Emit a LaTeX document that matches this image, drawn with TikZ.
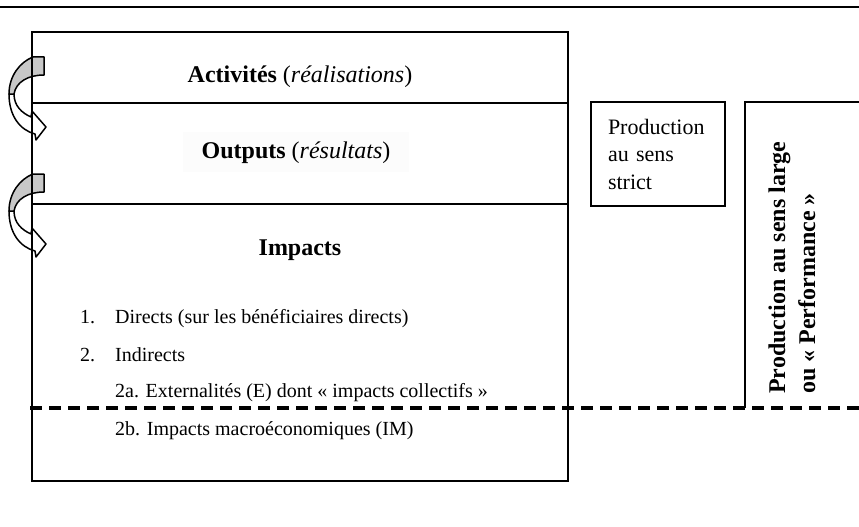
\documentclass[tikz,border=0pt]{standalone}
\usepackage{fontspec}
\setmainfont{Liberation Serif}
\usetikzlibrary{positioning}
\definecolor{twistgrey}{HTML}{C8C8C8}

\begin{document}
\begin{tikzpicture}[x=1pt, y=-1pt,
    levelTitle/.style={anchor=base, inner sep=0pt, font=\fontsize{24}{29}\selectfont},
    listItem/.style={anchor=base west, inner sep=0pt, font=\fontsize{20}{24}\selectfont},
    strictBox/.style={draw, line width=2.8pt, minimum width=134pt, minimum height=104pt, inner xsep=14pt, text width=100pt, align=left, font=\fontsize{22}{27.5}\selectfont},
    twistBack/.style={draw, line width=1.5pt, fill=twistgrey, line join=round},
    twistFront/.style={draw, line width=1.5pt, fill=white, line join=round}
]
    \useasboundingbox (0,0) rectangle (859,527);

    % rule at the top
    \draw[line width=2.2pt] (0,7) -- (859,7);

    % twisted arrows between the levels
    \foreach \dy in {0,117}{
        \begin{scope}[shift={(0,\dy)}]
            \draw[twistFront] (9,94) .. controls (9,116) and (20,130) .. (35,134) -- (36,140) -- (46,127) -- (32,111) -- (31,117) .. controls (22,113) and (14,106) .. (14,94) -- cycle;
            \draw[twistBack] (44,57) -- (33,57) .. controls (20,62) and (9,76) .. (9,94) -- (14,94) .. controls (16,82) and (28,75) .. (44,75) -- cycle;
        \end{scope}
    }

    % chain of results
    \draw[line width=1.8pt] (32,32) rectangle (568,481);
    \draw[line width=1.8pt] (32,103) -- (568,103) (32,204) -- (568,204);

    \node[levelTitle] (act) at (300,82) {\textbf{Activités} (\textit{réalisations})};
    \node[levelTitle, fill=black!1, inner xsep=19pt, inner ysep=9pt] (out) at (296,158) {\textbf{Outputs} (\textit{résultats})};
    \node[levelTitle] (imp) at (300,255) {\textbf{Impacts}};

    \node[listItem] (n1) at (80,323) {1.};
    \node[listItem] (i1) at (115,323) {Directs (sur les bénéficiaires directs)};
    \node[listItem] (n2) at (80,361) {2.};
    \node[listItem] (i2) at (115,361) {Indirects};
    \node[listItem] (i2a) at (115,397) {2a. Externalités (E) dont « impacts collectifs »};
    \node[listItem] (i2b) at (115,435) {2b. Impacts macroéconomiques (IM)};

    % production boxes
    \node[strictBox] (strict) at (658,154) {Production\\au sens\\strict};

    \draw[line width=2.8pt] (859,102) -- (745,102) -- (745,408);
    \node[rotate=90, anchor=west, align=left, inner sep=0pt, font=\bfseries\fontsize{24}{30}\selectfont] (large) at (792,394) {Production au sens large\\ou « Performance »};

    % split of the indirect impacts
    \draw[line width=4pt, dash pattern=on 12pt off 7pt] (30,408) -- (859,408);
\end{tikzpicture}
\end{document}
